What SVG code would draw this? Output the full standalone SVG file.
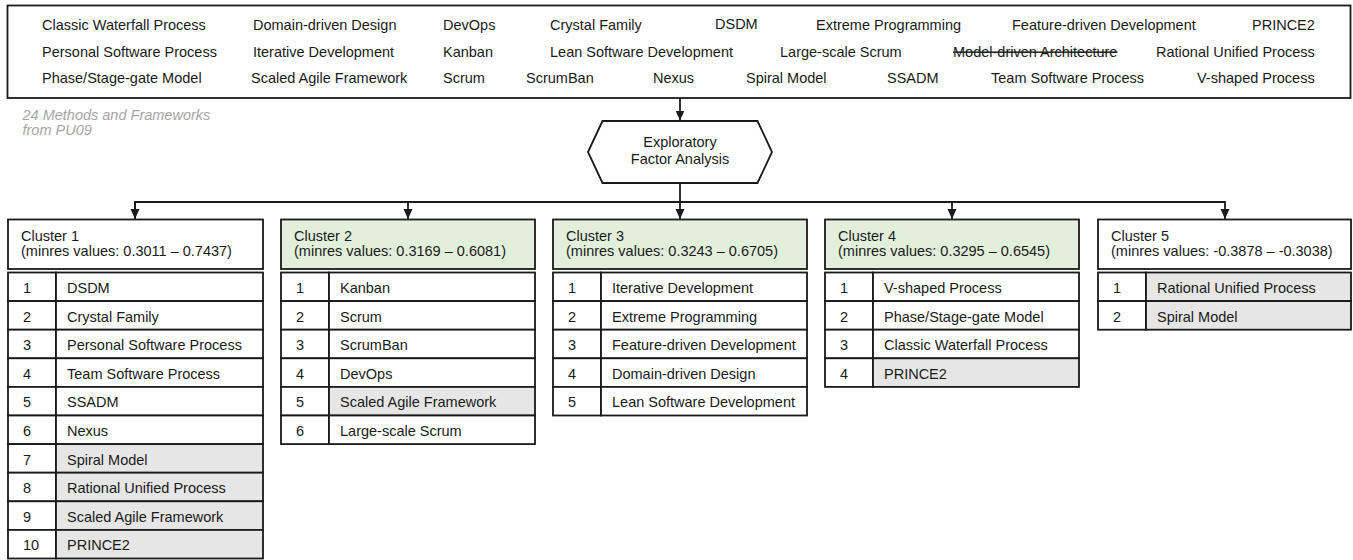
<svg xmlns="http://www.w3.org/2000/svg" width="1353" height="560" viewBox="0 0 1353 560">
<style>
  text { font-family: "Liberation Sans", Arial, sans-serif; font-size: 14.5px; fill: #1a1a1a; }
  .box { fill: #ffffff; stroke: #1a1a1a; stroke-width: 1.8; }
  .hdr-green { fill: #e2efda; stroke: #1a1a1a; stroke-width: 1.8; }
  .cell { fill: #ffffff; stroke: #1a1a1a; stroke-width: 1.8; }
  .gray { fill: #e6e6e6; stroke: #1a1a1a; stroke-width: 1.8; }
  .note { fill: #a6a6a6; font-style: italic; }
  .strike { text-decoration: line-through; }
  .conn { fill: none; stroke: #1a1a1a; stroke-width: 1.8; }
  .mid { text-anchor: middle; }
</style>
<defs>
  <marker id="arrow" markerUnits="userSpaceOnUse" markerWidth="10" markerHeight="10" refX="10" refY="4.5" orient="auto">
    <path d="M0,0 L10,4.5 L0,9 z" fill="#1a1a1a"/>
  </marker>
</defs>

<g id="methods">
  <rect class="box" x="7.5" y="5.5" width="1343" height="92.5"/>
  <text x="42" y="30">Classic Waterfall Process</text>
  <text x="253" y="30">Domain-driven Design</text>
  <text x="443" y="30">DevOps</text>
  <text x="550" y="30">Crystal Family</text>
  <text x="715" y="28.5">DSDM</text>
  <text x="816" y="30">Extreme Programming</text>
  <text x="1012" y="30">Feature-driven Development</text>
  <text x="1252" y="30">PRINCE2</text>
  <text x="42" y="56.5">Personal Software Process</text>
  <text x="253" y="56.5">Iterative Development</text>
  <text x="443" y="56.5">Kanban</text>
  <text x="550" y="56.5">Lean Software Development</text>
  <text x="780" y="56.5">Large-scale Scrum</text>
  <text class="strike" x="953" y="56.5">Model-driven Architecture</text>
  <text x="1156" y="56.5">Rational Unified Process</text>
  <text x="42" y="83">Phase/Stage-gate Model</text>
  <text x="251" y="83">Scaled Agile Framework</text>
  <text x="443" y="83">Scrum</text>
  <text x="526" y="83">ScrumBan</text>
  <text x="653" y="83">Nexus</text>
  <text x="746" y="83">Spiral Model</text>
  <text x="887" y="83">SSADM</text>
  <text x="991" y="83">Team Software Process</text>
  <text x="1197" y="83">V-shaped Process</text>
</g>

<g id="note">
  <text class="note" x="22.5" y="119.5">24 Methods and Frameworks</text>
  <text class="note" x="22.5" y="135">from PU09</text>
</g>

<g id="efa">
  <polygon class="box" points="588,152 602.5,121 757.5,121 772,152 757.5,183 602.5,183"/>
  <text class="mid" x="680" y="147">Exploratory</text>
  <text class="mid" x="680" y="164">Factor Analysis</text>
</g>

<g id="connectors">
  <path class="conn" d="M680,98 V120.5" marker-end="url(#arrow)"/>
  <path class="conn" d="M680,183 V219" marker-end="url(#arrow)"/>
  <path class="conn" d="M135,219 V202 H1225 V219" marker-end="url(#arrow)"/>
  <path class="conn" d="M135,202 V219" marker-end="url(#arrow)"/>
  <path class="conn" d="M408,202 V219" marker-end="url(#arrow)"/>
  <path class="conn" d="M952,202 V219" marker-end="url(#arrow)"/>
</g>

<g id="cluster1">
  <rect class="box" x="8" y="219.5" width="255" height="49.5"/>
  <text x="21" y="240.5">Cluster 1</text>
  <text x="21" y="256">(minres values: 0.3011 – 0.7437)</text>
  <rect class="cell" x="8" y="272.5" width="48" height="28.6"/><rect class="cell" x="56" y="272.5" width="207" height="28.6"/>
  <text x="23" y="293">1</text><text x="67" y="293">DSDM</text>
  <rect class="cell" x="8" y="301.1" width="48" height="28.6"/><rect class="cell" x="56" y="301.1" width="207" height="28.6"/>
  <text x="23" y="321.6">2</text><text x="67" y="321.6">Crystal Family</text>
  <rect class="cell" x="8" y="329.7" width="48" height="28.6"/><rect class="cell" x="56" y="329.7" width="207" height="28.6"/>
  <text x="23" y="350.2">3</text><text x="67" y="350.2">Personal Software Process</text>
  <rect class="cell" x="8" y="358.3" width="48" height="28.6"/><rect class="cell" x="56" y="358.3" width="207" height="28.6"/>
  <text x="23" y="378.8">4</text><text x="67" y="378.8">Team Software Process</text>
  <rect class="cell" x="8" y="386.9" width="48" height="28.6"/><rect class="cell" x="56" y="386.9" width="207" height="28.6"/>
  <text x="23" y="407.4">5</text><text x="67" y="407.4">SSADM</text>
  <rect class="cell" x="8" y="415.5" width="48" height="28.6"/><rect class="cell" x="56" y="415.5" width="207" height="28.6"/>
  <text x="23" y="436">6</text><text x="67" y="436">Nexus</text>
  <rect class="cell" x="8" y="444.1" width="48" height="28.6"/><rect class="gray" x="56" y="444.1" width="207" height="28.6"/>
  <text x="23" y="464.6">7</text><text x="67" y="464.6">Spiral Model</text>
  <rect class="cell" x="8" y="472.7" width="48" height="28.6"/><rect class="gray" x="56" y="472.7" width="207" height="28.6"/>
  <text x="23" y="493.2">8</text><text x="67" y="493.2">Rational Unified Process</text>
  <rect class="cell" x="8" y="501.3" width="48" height="28.6"/><rect class="gray" x="56" y="501.3" width="207" height="28.6"/>
  <text x="23" y="521.8">9</text><text x="67" y="521.8">Scaled Agile Framework</text>
  <rect class="cell" x="8" y="529.9" width="48" height="28.6"/><rect class="gray" x="56" y="529.9" width="207" height="28.6"/>
  <text x="23" y="550.4">10</text><text x="67" y="550.4">PRINCE2</text>
</g>

<g id="cluster2">
  <rect class="hdr-green" x="281" y="219.5" width="254" height="49.5"/>
  <text x="294" y="240.5">Cluster 2</text>
  <text x="294" y="256">(minres values: 0.3169 – 0.6081)</text>
  <rect class="cell" x="281" y="272.5" width="48" height="28.6"/><rect class="cell" x="329" y="272.5" width="206" height="28.6"/>
  <text x="296" y="293">1</text><text x="340" y="293">Kanban</text>
  <rect class="cell" x="281" y="301.1" width="48" height="28.6"/><rect class="cell" x="329" y="301.1" width="206" height="28.6"/>
  <text x="296" y="321.6">2</text><text x="340" y="321.6">Scrum</text>
  <rect class="cell" x="281" y="329.7" width="48" height="28.6"/><rect class="cell" x="329" y="329.7" width="206" height="28.6"/>
  <text x="296" y="350.2">3</text><text x="340" y="350.2">ScrumBan</text>
  <rect class="cell" x="281" y="358.3" width="48" height="28.6"/><rect class="cell" x="329" y="358.3" width="206" height="28.6"/>
  <text x="296" y="378.8">4</text><text x="340" y="378.8">DevOps</text>
  <rect class="cell" x="281" y="386.9" width="48" height="28.6"/><rect class="gray" x="329" y="386.9" width="206" height="28.6"/>
  <text x="296" y="407.4">5</text><text x="340" y="407.4">Scaled Agile Framework</text>
  <rect class="cell" x="281" y="415.5" width="48" height="28.6"/><rect class="cell" x="329" y="415.5" width="206" height="28.6"/>
  <text x="296" y="436">6</text><text x="340" y="436">Large-scale Scrum</text>
</g>

<g id="cluster3">
  <rect class="hdr-green" x="553" y="219.5" width="254" height="49.5"/>
  <text x="566" y="240.5">Cluster 3</text>
  <text x="566" y="256">(minres values: 0.3243 – 0.6705)</text>
  <rect class="cell" x="553" y="272.5" width="48" height="28.6"/><rect class="cell" x="601" y="272.5" width="206" height="28.6"/>
  <text x="568" y="293">1</text><text x="612" y="293">Iterative Development</text>
  <rect class="cell" x="553" y="301.1" width="48" height="28.6"/><rect class="cell" x="601" y="301.1" width="206" height="28.6"/>
  <text x="568" y="321.6">2</text><text x="612" y="321.6">Extreme Programming</text>
  <rect class="cell" x="553" y="329.7" width="48" height="28.6"/><rect class="cell" x="601" y="329.7" width="206" height="28.6"/>
  <text x="568" y="350.2">3</text><text x="612" y="350.2">Feature-driven Development</text>
  <rect class="cell" x="553" y="358.3" width="48" height="28.6"/><rect class="cell" x="601" y="358.3" width="206" height="28.6"/>
  <text x="568" y="378.8">4</text><text x="612" y="378.8">Domain-driven Design</text>
  <rect class="cell" x="553" y="386.9" width="48" height="28.6"/><rect class="cell" x="601" y="386.9" width="206" height="28.6"/>
  <text x="568" y="407.4">5</text><text x="612" y="407.4">Lean Software Development</text>
</g>

<g id="cluster4">
  <rect class="hdr-green" x="825" y="219.5" width="254" height="49.5"/>
  <text x="838" y="240.5">Cluster 4</text>
  <text x="838" y="256">(minres values: 0.3295 – 0.6545)</text>
  <rect class="cell" x="825" y="272.5" width="48" height="28.6"/><rect class="cell" x="873" y="272.5" width="206" height="28.6"/>
  <text x="840" y="293">1</text><text x="884" y="293">V-shaped Process</text>
  <rect class="cell" x="825" y="301.1" width="48" height="28.6"/><rect class="cell" x="873" y="301.1" width="206" height="28.6"/>
  <text x="840" y="321.6">2</text><text x="884" y="321.6">Phase/Stage-gate Model</text>
  <rect class="cell" x="825" y="329.7" width="48" height="28.6"/><rect class="cell" x="873" y="329.7" width="206" height="28.6"/>
  <text x="840" y="350.2">3</text><text x="884" y="350.2">Classic Waterfall Process</text>
  <rect class="cell" x="825" y="358.3" width="48" height="28.6"/><rect class="gray" x="873" y="358.3" width="206" height="28.6"/>
  <text x="840" y="378.8">4</text><text x="884" y="378.8">PRINCE2</text>
</g>

<g id="cluster5">
  <rect class="box" x="1098" y="219.5" width="253" height="49.5"/>
  <text x="1111" y="240.5">Cluster 5</text>
  <text x="1111" y="256">(minres values: -0.3878 – -0.3038)</text>
  <rect class="cell" x="1098" y="272.5" width="48" height="28.6"/><rect class="gray" x="1146" y="272.5" width="205" height="28.6"/>
  <text x="1113" y="293">1</text><text x="1157" y="293">Rational Unified Process</text>
  <rect class="cell" x="1098" y="301.1" width="48" height="28.6"/><rect class="gray" x="1146" y="301.1" width="205" height="28.6"/>
  <text x="1113" y="321.6">2</text><text x="1157" y="321.6">Spiral Model</text>
</g>
</svg>
